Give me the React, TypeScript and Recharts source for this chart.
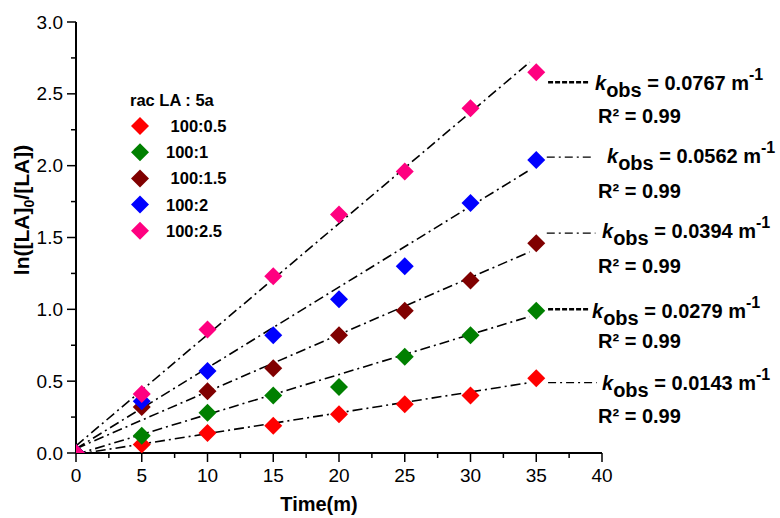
import React from 'react';
import { ComposedChart, Scatter, Line, XAxis, YAxis, ReferenceLine, Legend } from 'recharts';

const FONT = '"Liberation Sans", Arial, Helvetica, sans-serif';

// sampling times (m)
const times = [0, 5, 10, 15, 20, 25, 30, 35];

// ln([LA]0/[LA]) for each rac LA : 5a ratio
const ratio05 = [0, 0.06, 0.14, 0.19, 0.27, 0.34, 0.40, 0.52];
const ratio10 = [0, 0.12, 0.28, 0.40, 0.46, 0.67, 0.82, 0.99];
const ratio15 = [0, 0.32, 0.43, 0.59, 0.82, 0.99, 1.20, 1.46];
const ratio20 = [0, 0.36, 0.57, 0.82, 1.07, 1.30, 1.74, 2.04];
const ratio25 = [0, 0.41, 0.86, 1.23, 1.66, 1.96, 2.40, 2.65];

const seriesNames = [' 100:0.5', '100:1', ' 100:1.5', '100:2', '100:2.5'];
const seriesValues = [ratio05, ratio10, ratio15, ratio20, ratio25];
const COLORS = ['#FF0000', '#008000', '#800000', '#0000FF', '#FF0080'];

// linear fits, read at both ends
const fitX = [0, 34.5];
const fitStart = [-0.01, -0.01, 0.03, 0.03, 0.05];
const fitEnd = [0.49, 0.95, 1.4, 1.97, 2.72];

// fit results
const kobs = ['0.0143', '0.0279', '0.0394', '0.0562', '0.0767'];
const r2 = ['0.99', '0.99', '0.99', '0.99', '0.99'];

// leader lines from last point to the labels
const leaderY = [0.49, 1.0, 1.53, 2.06, 2.58];
const leaderFrom = [35.9, 35.9, 35.8, 35.8, 35.9];
const leaderTo = [39.6, 39.0, 39.5, 39.4, 39.0];
const leaderDashed = [false, true, false, false, true];

const xTicks = [0, 2.5, 5, 7.5, 10, 12.5, 15, 17.5, 20, 22.5, 25, 27.5, 30, 32.5, 35, 37.5, 40];
const yTicks = [0, 0.25, 0.5, 0.75, 1, 1.25, 1.5, 1.75, 2, 2.25, 2.5, 2.75, 3];

// label placement (px)
const labelX = [602, 592, 602, 607, 595];
const labelY = [390, 318, 238, 163, 90];
const r2Y = [423, 348, 273, 198, 123];

const toPoints = (vals: number[]) => times.map((t, i) => ({ x: t, y: vals[i] }));

const Diamond = (props: any) => {
  const { cx, cy, fill } = props;
  if (cx == null || cy == null) return null;
  const r = 9;
  return <polygon points={`${cx},${cy - r} ${cx + r},${cy} ${cx},${cy + r} ${cx - r},${cy}`} fill={fill} />;
};

const BottomTick = (props: any) => {
  const { x, y, payload } = props;
  const major = payload.value % 5 === 0;
  return (
    <g>
      <line x1={x} y1={y} x2={x} y2={y + (major ? 9 : 5)} stroke="#000" strokeWidth={1.5} />
      {major && (
        <text x={x} y={y + 29} textAnchor="middle" fontSize={19} fontFamily={FONT} fill="#000">
          {payload.value}
        </text>
      )}
    </g>
  );
};

const LeftTick = (props: any) => {
  const { x, y, payload } = props;
  const major = Math.abs(payload.value * 2 - Math.round(payload.value * 2)) < 1e-6;
  return (
    <g>
      <line x1={x - (major ? 9 : 5)} y1={y} x2={x} y2={y} stroke="#000" strokeWidth={1.5} />
      {major && (
        <text x={x - 13} y={y} dy="0.35em" textAnchor="end" fontSize={19} fontFamily={FONT} fill="#000">
          {payload.value.toFixed(1)}
        </text>
      )}
    </g>
  );
};

const TopTick = (props: any) => {
  const { x, y } = props;
  return <line x1={x} y1={y} x2={x} y2={y - 3} stroke="#000" strokeWidth={1} />;
};

const RightTick = (props: any) => {
  const { x, y } = props;
  return <line x1={x} y1={y} x2={x + 3} y2={y} stroke="#000" strokeWidth={1} />;
};

const renderLegend = () => (
  <svg width={130} height={160}>
    <text x={10} y={18} fontSize={16.5} fontWeight="bold" fontFamily={FONT} fill="#000">
      rac LA : 5a
    </text>
    {seriesNames.map((name, i) => {
      const cy = 38 + i * 26.2;
      return (
        <g key={name}>
          <Diamond cx={20} cy={cy} fill={COLORS[i]} />
          <text
            x={46}
            y={cy + 6}
            fontSize={16.5}
            fontWeight="bold"
            fontFamily={FONT}
            fill="#000"
            style={{ whiteSpace: 'pre' }}
          >
            {name}
          </text>
        </g>
      );
    })}
  </svg>
);

export default function App() {
  return (
    <div style={{ position: 'absolute', left: 0, top: 0, width: 780, height: 518, background: '#fff' }}>
      <ComposedChart width={780} height={518} margin={{ top: 22, right: 178, bottom: 20, left: 20 }}>
        <XAxis
          xAxisId="main"
          type="number"
          dataKey="x"
          domain={[0, 40]}
          ticks={xTicks}
          interval={0}
          allowDataOverflow
          height={45}
          tickSize={0}
          tickMargin={0}
          tickLine={false}
          tick={<BottomTick />}
          axisLine={{ stroke: '#000', strokeWidth: 2 }}
        />
        <XAxis
          xAxisId="top"
          orientation="top"
          type="number"
          domain={[0, 40]}
          ticks={xTicks}
          interval={0}
          height={0}
          tickSize={0}
          tickMargin={0}
          tickLine={false}
          tick={<TopTick />}
          axisLine={{ stroke: '#000', strokeWidth: 2 }}
        />
        <YAxis
          yAxisId="main"
          type="number"
          dataKey="y"
          domain={[0, 3]}
          ticks={yTicks}
          interval={0}
          allowDataOverflow
          width={56}
          tickSize={0}
          tickMargin={0}
          tickLine={false}
          tick={<LeftTick />}
          axisLine={{ stroke: '#000', strokeWidth: 2 }}
        />
        <YAxis
          yAxisId="right"
          orientation="right"
          type="number"
          domain={[0, 3]}
          ticks={yTicks}
          interval={0}
          width={0}
          tickSize={0}
          tickMargin={0}
          tickLine={false}
          tick={<RightTick />}
          axisLine={{ stroke: '#000', strokeWidth: 2 }}
        />
        <Legend
          layout="vertical"
          align="center"
          verticalAlign="middle"
          content={renderLegend}
          wrapperStyle={{ left: 120, top: 88, width: 130, height: 160 }}
        />
        {seriesValues.map((vals, i) => (
          <Scatter
            key={`pts-${i}`}
            xAxisId="main"
            yAxisId="main"
            name={seriesNames[i]}
            data={toPoints(vals)}
            fill={COLORS[i]}
            shape={<Diamond />}
            isAnimationActive={false}
          />
        ))}
        {fitStart.map((s, i) => (
          <Line
            key={`fit-${i}`}
            xAxisId="main"
            yAxisId="main"
            data={[
              { x: fitX[0], y: s },
              { x: fitX[1], y: fitEnd[i] },
            ]}
            dataKey="y"
            type="linear"
            stroke="#000"
            strokeWidth={1.6}
            strokeDasharray="10 4 2 4"
            dot={false}
            activeDot={false}
            legendType="none"
            isAnimationActive={false}
          />
        ))}
        {leaderY.map((ly, i) => (
          <ReferenceLine
            key={`lead-${i}`}
            xAxisId="main"
            yAxisId="main"
            segment={[
              { x: leaderFrom[i], y: ly },
              { x: leaderTo[i], y: ly },
            ]}
            stroke="#000"
            strokeWidth={leaderDashed[i] ? 2.5 : 1.2}
            strokeDasharray={leaderDashed[i] ? '5 2' : '8 4 2 4'}
            ifOverflow="visible"
          />
        ))}
      </ComposedChart>
      <svg
        width={780}
        height={518}
        style={{ position: 'absolute', left: 0, top: 0, pointerEvents: 'none' }}
        fontFamily={FONT}
      >
        {kobs.map((k, i) => (
          <g key={`lab-${i}`}>
            <text x={labelX[i]} y={labelY[i]} fontSize={20} fontWeight="bold" fill="#000">
              <tspan fontStyle="italic">k</tspan>
              <tspan dy={7}>obs</tspan>
              <tspan dy={-7}>{` = ${k} m`}</tspan>
              <tspan dy={-10} fontSize={16}>-1</tspan>
            </text>
            <text x={598} y={r2Y[i]} fontSize={20} fontWeight="bold" fill="#000">
              {`R² = ${r2[i]}`}
            </text>
          </g>
        ))}
        <text x={319} y={511} textAnchor="middle" fontSize={20} fontWeight="bold" fill="#000">
          Time(m)
        </text>
        <text transform="translate(29,210) rotate(-90)" textAnchor="middle" fontSize={21} fontWeight="bold" fill="#000">
          ln([LA]
          <tspan dy={5} fontSize={14}>0</tspan>
          <tspan dy={-5}>/[LA])</tspan>
        </text>
      </svg>
    </div>
  );
}
